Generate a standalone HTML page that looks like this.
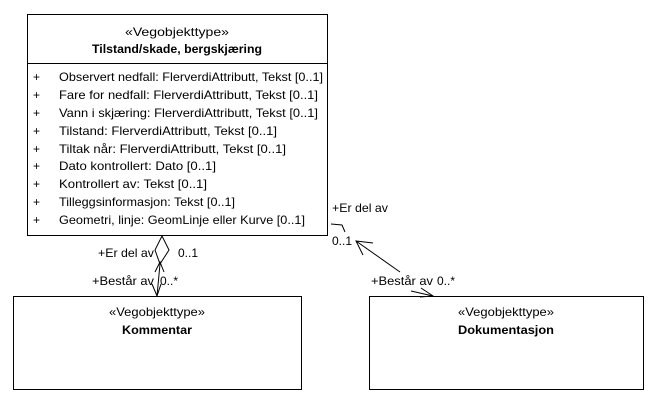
<!DOCTYPE html>
<html><head><meta charset="utf-8"><style>
html,body{margin:0;padding:0;background:#fff;}
svg{display:block;}
text{font-family:"Liberation Sans",sans-serif;font-size:12px;fill:#000;}
</style></head><body>
<svg width="658" height="405" viewBox="0 0 658 405" xmlns="http://www.w3.org/2000/svg">
<rect width="658" height="405" fill="#fff"/>
<g fill="#fff" stroke="#000" stroke-width="1">
<rect x="27.5" y="14.5" width="300" height="221"/>
<line x1="27.5" y1="63.5" x2="327.5" y2="63.5"/>
<rect x="13.5" y="296.5" width="288" height="93"/>
<rect x="369.5" y="296.5" width="274" height="93"/>
</g>
<text x="177" y="36" text-anchor="middle" textLength="104" lengthAdjust="spacingAndGlyphs">«Vegobjekttype»</text>
<text x="177" y="53" text-anchor="middle" font-weight="bold" textLength="170" lengthAdjust="spacingAndGlyphs">Tilstand/skade, bergskjæring</text>
<g>
<text x="33" y="81">+</text><text x="59" y="81" textLength="264" lengthAdjust="spacingAndGlyphs">Observert nedfall: FlerverdiAttributt, Tekst [0..1]</text>
<text x="33" y="99">+</text><text x="59" y="99" textLength="259" lengthAdjust="spacingAndGlyphs">Fare for nedfall: FlerverdiAttributt, Tekst [0..1]</text>
<text x="33" y="117">+</text><text x="59" y="117" textLength="259" lengthAdjust="spacingAndGlyphs">Vann i skjæring: FlerverdiAttributt, Tekst [0..1]</text>
<text x="33" y="135">+</text><text x="59" y="135" textLength="218" lengthAdjust="spacingAndGlyphs">Tilstand: FlerverdiAttributt, Tekst [0..1]</text>
<text x="33" y="153">+</text><text x="59" y="153" textLength="227" lengthAdjust="spacingAndGlyphs">Tiltak når: FlerverdiAttributt, Tekst [0..1]</text>
<text x="33" y="170">+</text><text x="59" y="170" textLength="157" lengthAdjust="spacingAndGlyphs">Dato kontrollert: Dato [0..1]</text>
<text x="33" y="188">+</text><text x="59" y="188" textLength="148" lengthAdjust="spacingAndGlyphs">Kontrollert av: Tekst [0..1]</text>
<text x="33" y="206">+</text><text x="59" y="206" textLength="176" lengthAdjust="spacingAndGlyphs">Tilleggsinformasjon: Tekst [0..1]</text>
<text x="33" y="224">+</text><text x="59" y="224" textLength="246" lengthAdjust="spacingAndGlyphs">Geometri, linje: GeomLinje eller Kurve [0..1]</text>
</g>
<text x="157" y="316" text-anchor="middle" textLength="96" lengthAdjust="spacingAndGlyphs">«Vegobjekttype»</text>
<text x="157" y="334" text-anchor="middle" font-weight="bold" textLength="70" lengthAdjust="spacingAndGlyphs">Kommentar</text>
<text x="506" y="316" text-anchor="middle" textLength="96" lengthAdjust="spacingAndGlyphs">«Vegobjekttype»</text>
<text x="506" y="334" text-anchor="middle" font-weight="bold" textLength="96" lengthAdjust="spacingAndGlyphs">Dokumentasjon</text>
<g fill="none" stroke="#000" stroke-width="1">
<polygon points="162,236 169,250 160,264 155,250" fill="#fff"/>
<line x1="160" y1="264" x2="157" y2="296"/>
<polyline points="152,284 157,296 161,284"/>
<polyline points="155,272 160,262 164,272"/>
<polyline points="345,232 342,225 331,224"/>
<line x1="356" y1="241" x2="400" y2="272"/>
<polyline points="373,243 356,241 363,255"/>
<line x1="411" y1="291" x2="433" y2="296"/>
<polyline points="421,288 433,296 420,297"/>
</g>
<text x="98" y="257" textLength="56" lengthAdjust="spacingAndGlyphs">+Er del av</text>
<text x="178" y="257">0..1</text>
<text x="92" y="285" textLength="62" lengthAdjust="spacingAndGlyphs">+Består av</text>
<text x="160" y="285">0..*</text>
<text x="332" y="212" textLength="56" lengthAdjust="spacingAndGlyphs">+Er del av</text>
<text x="332" y="245">0..1</text>
<text x="371" y="285" textLength="62" lengthAdjust="spacingAndGlyphs">+Består av</text>
<text x="437" y="285">0..*</text>
</svg>
</body></html>
